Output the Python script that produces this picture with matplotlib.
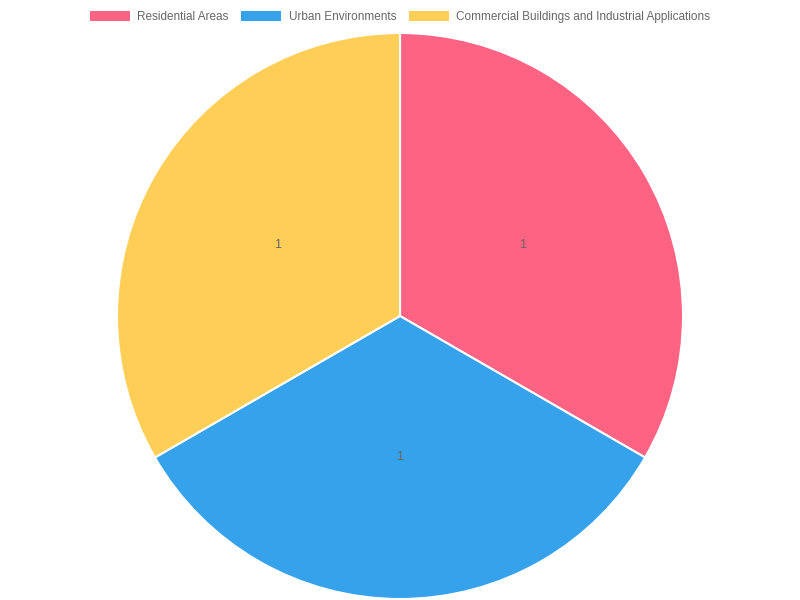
import matplotlib.pyplot as plt
from matplotlib.patches import Patch

labels = ["Residential Areas", "Urban Environments", "Commercial Buildings and Industrial Applications"]
values = [1, 1, 1]
colors = ["#FF6384", "#36A2EB", "#FFCE56"]

plt.rcParams['font.family'] = ['Liberation Sans', 'DejaVu Sans']

fig = plt.figure(figsize=(8, 6), dpi=100)
ax = fig.add_axes([117 / 800, 1 / 600, 566 / 800, 566 / 600])

wedges, texts = ax.pie(values, colors=colors, startangle=90, counterclock=False,
                       labels=[str(v) for v in values], labeldistance=0.5,
                       wedgeprops=dict(edgecolor="white", linewidth=1.5))
for t in texts:
    t.set_color("#666666")
    t.set_fontsize(9)
    t.set_ha("center")
    t.set_va("center")
ax.set_xlim(-1, 1)
ax.set_ylim(-1, 1)
ax.set_aspect("equal")

handles = [Patch(facecolor=c, edgecolor="none") for c in colors]
fig.legend(handles, labels, loc="upper center", bbox_to_anchor=(0.5, 1 - 3 / 600),
           ncol=3, frameon=False, fontsize=8.5, labelcolor="#666666",
           handlelength=3.4, handleheight=0.85, handletextpad=0.6, columnspacing=1.1,
           borderpad=0.2)

fig.savefig("out.png", dpi=100)
